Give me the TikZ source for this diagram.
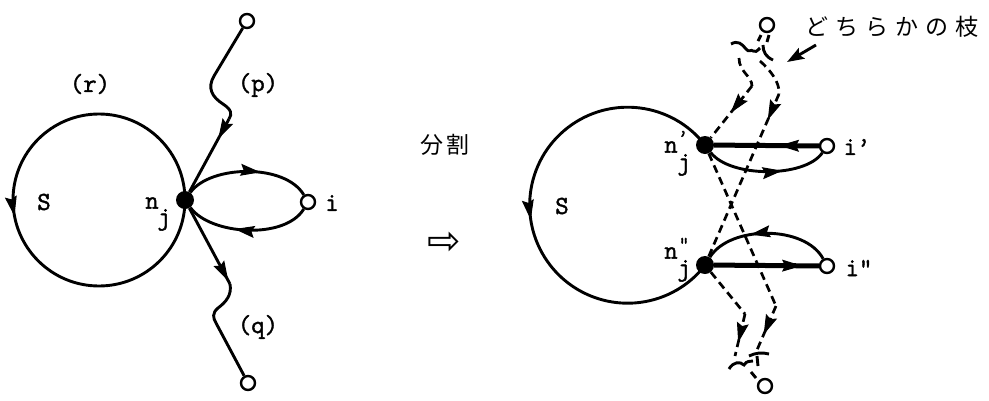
\documentclass[tikz,border=0pt]{standalone}
\usepackage{fontspec}
\newfontfamily\lab[FakeBold=1.6]{Latin Modern Mono}
\newfontfamily\jp{Noto Sans CJK JP}
\newfontfamily\sym{DejaVu Sans}
\usetikzlibrary{arrows.meta,decorations.markings}
\tikzset{
  ln/.style={line width=2.9pt},
  thk/.style={line width=5pt},
  dsh/.style={line width=2.7pt, dash pattern=on 8pt off 5pt},
  marr/.style={postaction={decorate}, decoration={markings,
     mark=at position #1 with {\pgfsetdash{}{0pt}\pgfsetlinewidth{1pt}\arrow{Stealth[length=20pt,width=12pt,inset=3pt]}}}},
  opn/.style={circle, draw, line width=2.4pt, fill=white, inner sep=0pt, minimum size=14pt},
  dot/.style={circle, fill, inner sep=0pt, minimum size=18pt},
  lbl/.style={inner sep=0pt, font=\lab\fontsize{26}{28}\selectfont},
  sml/.style={inner sep=0pt, font=\lab\fontsize{20}{22}\selectfont},
  jpt/.style={inner sep=0pt, font=\jp\fontsize{23}{26}\selectfont},
}
\begin{document}
\begin{tikzpicture}[x=1pt,y=-1pt]
\path[use as bounding box] (0,0) rectangle (989,400);

% ---------- left figure ----------
\node[dot] (nj) at (185,200) {};
\node[opn] (p) at (247,21) {};
\node[opn] (q) at (248,383) {};
\node[opn] (i) at (308,202) {};
\coordinate (p0) at (214,76);
\coordinate (p1) at (229,119);
\coordinate (q1) at (230,284);
\coordinate (q2) at (216,323);

\draw[ln, marr=0.53] (nj.center) arc[start angle=0, end angle=-360, radius=86];
\draw[ln] (p) -- (p0) .. controls (207,88) and (212,97) .. (223,104)
          .. controls (232,110) and (232,114) .. (p1);
\draw[ln, marr=0.27] (p1) -- (nj);
\draw[ln, marr=0.96] (nj) -- (q1);
\draw[ln] (q1) .. controls (232,295) and (226,302) .. (218,308)
          .. controls (212,313) and (213,318) .. (q2) -- (q);
\draw[ln, marr=0.6] (nj) .. controls (210,165) and (285,163) .. (i);
\draw[ln, marr=0.6] (i) .. controls (285,240) and (210,235) .. (nj);

\node[lbl] (lr) at (90,84) {(r)};
\node[lbl] (lp) at (258,85) {(p)};
\node[lbl] (lq) at (258,327) {(q)};
\node[lbl] (lS) at (44,202) {S};
\node[lbl] (ln1) at (152,203) {n};
\node[lbl] (lj1) at (164,220) {j};
\node[lbl] (li) at (332,203) {i};

% ---------- middle ----------
\node[jpt] (bun) at (445,145) {分\hspace{3pt}割};
\node[inner sep=0pt, font=\sym\fontsize{40}{42}\selectfont] (imp) at (444,243) {⇨};

% ---------- right figure ----------
\node[dot] (n1) at (705,145) {};
\node[dot] (n2) at (705,265) {};
\node[opn] (i1) at (827,146) {};
\node[opn] (i2) at (827,266) {};
\node[opn] (t) at (767,25) {};
\node[opn] (b) at (765,386) {};

\draw[ln, marr=0.53] (n1.center) arc[start angle=-37.9, end angle=-322.1, radius=98];
\draw[thk, marr=0.38] (i1) -- (n1);
\draw[thk, marr=0.84] (n2) -- (i2);
\draw[ln, marr=0.63] (n1) .. controls (730,178) and (805,178) .. (i1);
\draw[ln, marr=0.63] (i2) .. controls (805,225) and (730,225) .. (n2);

% dashed branches, top
\coordinate (a1) at (739,58);
\coordinate (a2) at (752,86);
\coordinate (b1) at (760,61);
\coordinate (b2) at (779,94);
\draw[dsh] (a1) .. controls (739,72) and (752,76) .. (a2);
\draw[dsh, marr=0.52] (a2) -- (n1);
\draw[dsh] (b1) .. controls (770,70) and (780,82) .. (b2);
\draw[dsh, marr=0.16] (b2) -- (n2);
% dashed branches, bottom
\coordinate (c1) at (776,306);
\coordinate (c2) at (757,350);
\coordinate (d1) at (745,314);
\coordinate (d2) at (735,356);
\draw[dsh] (n1) -- (c1);
\draw[dsh, marr=0.65] (c1) -- (c2);
\draw[dsh] (n2) -- (d1);
\draw[dsh, marr=0.68] (d1) -- (d2);

% break marks, top
\draw[ln] (761,35) -- (758,41);
\draw[ln] (769,35) -- (767,42);
\draw[ln] (731,44) .. controls (738,40) and (742,44) .. (746,49)
          .. controls (749,53) and (751,49) .. (753,51)
          .. controls (755,53) and (757,51) .. (760,48);
\draw[ln] (763,45) .. controls (763,52) and (766,57) .. (773,60);
% break marks, bottom
\draw[ln] (729,369) .. controls (733,362) and (740,361) .. (744,365)
          .. controls (747,360) and (750,362) .. (753,361);
\draw[ln] (749,356) .. controls (755,353) and (762,352) .. (769,354);
\draw[ln] (757,356) -- (758,366);
\draw[ln] (751,372) -- (756,378);

% labels
\node[lbl] (rS) at (562,206) {S};
\node[lbl] (rn1) at (671,147) {n};
\node[sml] (rp1) at (683,137) {’};
\node[lbl] (rj1) at (684,165) {j};
\node[lbl] (rn2) at (671,253) {n};
\node[sml] (rp2) at (684,244) {”};
\node[lbl] (rj2) at (684,271) {j};
\node[lbl] (ri1) at (857,147) {i’};
\node[lbl] (ri2) at (859,268) {i”};

% annotation
\node[jpt, anchor=west] (ann) at (805,27) {ど\hspace{7pt}ち\hspace{7pt}ら\hspace{7pt}か\hspace{7pt}の\hspace{7pt}枝};
\coordinate (an1) at (816,45);
\coordinate (an2) at (787,62);
\draw[ln, -{Stealth[length=17pt,width=12pt,inset=3pt]}] (an1) -- (an2);
\end{tikzpicture}
\end{document}
